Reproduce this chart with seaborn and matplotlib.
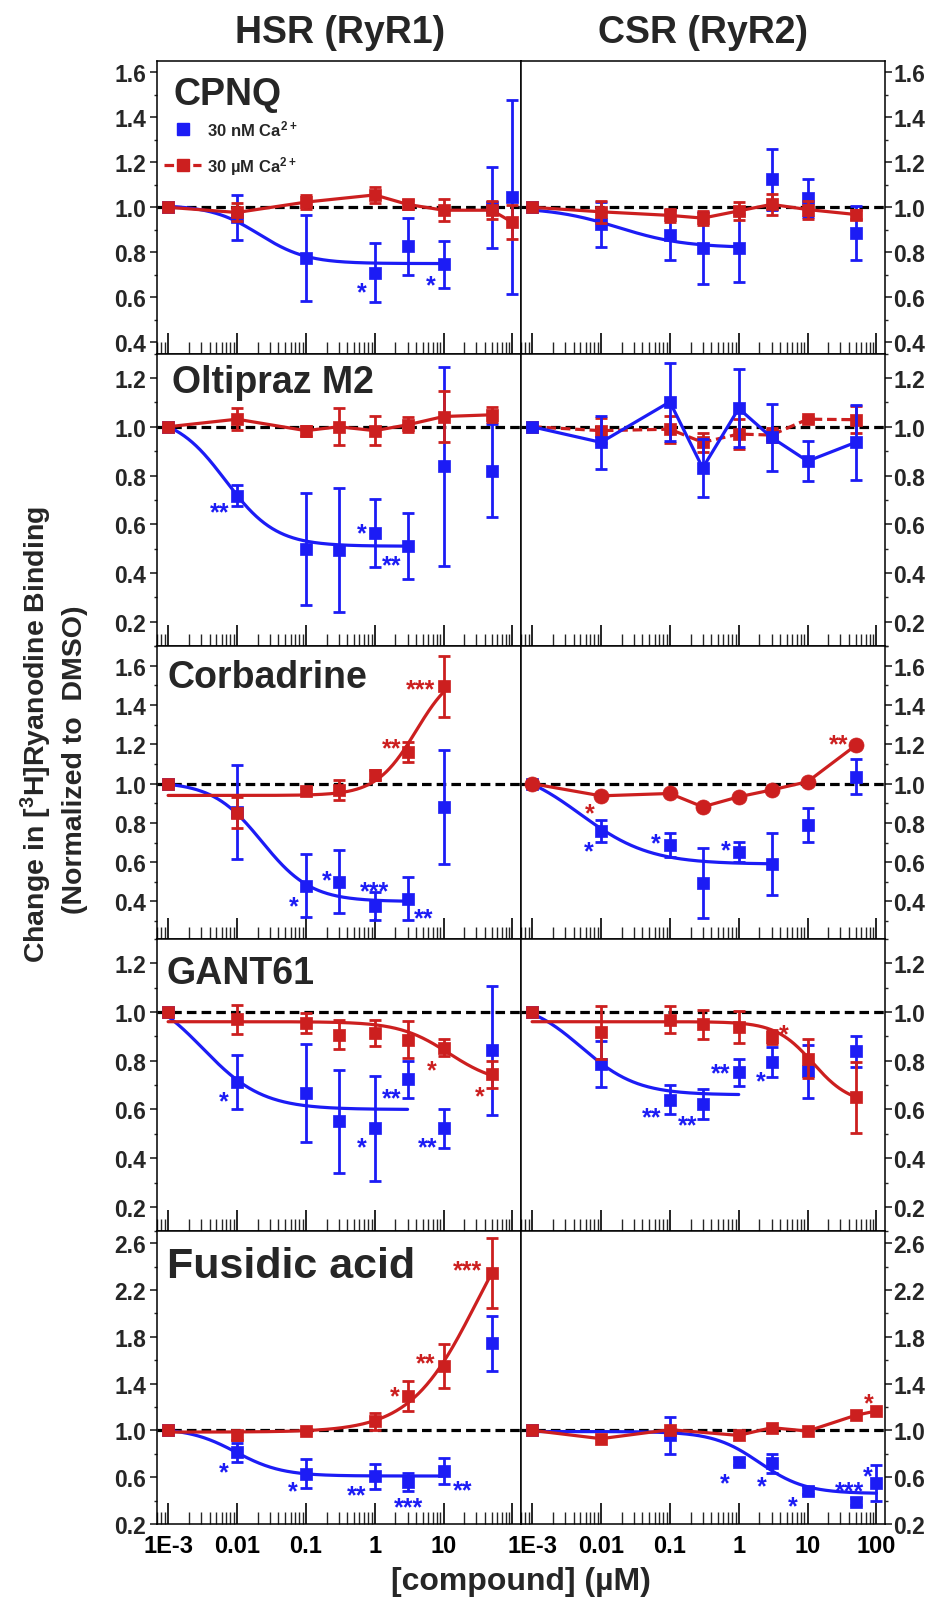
import numpy as np
import matplotlib
matplotlib.use("Agg")
import matplotlib.pyplot as plt
from matplotlib.ticker import LogLocator, MultipleLocator, FormatStrFormatter, FixedLocator, FixedFormatter, NullFormatter
from matplotlib.lines import Line2D
import seaborn as sns

BLUE = '#1c1cf5'
RED = '#cc1f1f'

# ---- data (fraction of DMSO binding), low Ca (30 nM) and high Ca (30 uM) ----
C_CPNQ_HSR = [0.001, 0.01, 0.1, 1, 3, 10, 50, 100]
CPNQ_HSR_LO = [1.0, 0.955, 0.775, 0.71, 0.826, 0.746, 1.0, 1.045]
CPNQ_HSR_LO_ERR = [0, 0.10, 0.19, 0.13, 0.125, 0.105, 0.18, 0.43]
CPNQ_HSR_HI = [1.0, 0.977, 1.023, 1.055, 1.013, 0.987, 0.987, 0.933]
CPNQ_HSR_HI_ERR = [0, 0.04, 0.03, 0.035, 0.02, 0.05, 0.04, 0.076]

C_CPNQ_CSR = [0.001, 0.01, 0.1, 0.3, 1, 3, 10, 50]
CPNQ_CSR_LO = [1.0, 0.924, 0.878, 0.82, 0.82, 1.125, 1.04, 0.887]
CPNQ_CSR_LO_ERR = [0, 0.10, 0.11, 0.16, 0.15, 0.135, 0.085, 0.12]
CPNQ_CSR_HI = [1.0, 0.98, 0.964, 0.952, 0.984, 1.013, 0.99, 0.968]
CPNQ_CSR_HI_ERR = [0, 0.05, 0.03, 0.03, 0.04, 0.045, 0.04, 0.02]

C_OLT = [0.001, 0.01, 0.1, 0.3, 1, 3, 10, 50]
OLT_HSR_LO = [1.0, 0.718, 0.50, 0.494, 0.565, 0.512, 0.837, 0.82]
OLT_HSR_LO_ERR = [0, 0.045, 0.23, 0.255, 0.14, 0.135, 0.41, 0.19]
OLT_HSR_HI = [1.0, 1.031, 0.984, 1.0, 0.984, 1.008, 1.042, 1.049]
OLT_HSR_HI_ERR = [0, 0.045, 0.02, 0.075, 0.06, 0.03, 0.105, 0.03]
OLT_CSR_LO = [1.0, 0.936, 1.102, 0.831, 1.075, 0.956, 0.859, 0.936]
OLT_CSR_LO_ERR = [0, 0.11, 0.16, 0.12, 0.16, 0.137, 0.083, 0.155]
OLT_CSR_HI = [1.0, 0.984, 0.99, 0.936, 0.97, 0.966, 1.031, 1.029]
OLT_CSR_HI_ERR = [0, 0.05, 0.055, 0.04, 0.06, 0.03, 0.01, 0.055]

C_CORB_HSR = [0.001, 0.01, 0.1, 0.3, 1, 3, 10]
CORB_HSR_LO = [1.0, 0.854, 0.48, 0.50, 0.378, 0.415, 0.882]
CORB_HSR_LO_ERR = [0, 0.24, 0.16, 0.16, 0.07, 0.11, 0.29]
CORB_HSR_HI = [1.0, 0.853, 0.962, 0.967, 1.044, 1.16, 1.497]
CORB_HSR_HI_ERR = [0, 0.08, 0.015, 0.05, 0.025, 0.05, 0.155]
C_CORB_CSR = [0.001, 0.01, 0.1, 0.3, 1, 3, 10, 50]
CORB_CSR_LO = [1.0, 0.759, 0.689, 0.494, 0.651, 0.591, 0.79, 1.036]
CORB_CSR_LO_ERR = [0, 0.055, 0.06, 0.18, 0.05, 0.16, 0.085, 0.09]
CORB_CSR_HI = [1.0, 0.938, 0.95, 0.882, 0.933, 0.968, 1.01, 1.195]

C_GANT = [0.001, 0.01, 0.1, 0.3, 1, 3, 10, 50]
GANT_HSR_LO = [1.0, 0.712, 0.668, 0.551, 0.523, 0.723, 0.523, 0.842]
GANT_HSR_LO_ERR = [0, 0.11, 0.2, 0.21, 0.215, 0.075, 0.08, 0.265]
GANT_HSR_HI = [1.0, 0.97, 0.955, 0.907, 0.914, 0.886, 0.853, 0.744]
GANT_HSR_HI_ERR = [0, 0.06, 0.04, 0.06, 0.055, 0.075, 0.035, 0.055]
GANT_CSR_LO = [1.0, 0.786, 0.64, 0.622, 0.752, 0.795, 0.756, 0.838]
GANT_CSR_LO_ERR = [0, 0.095, 0.06, 0.06, 0.055, 0.06, 0.11, 0.065]
GANT_CSR_HI = [1.0, 0.916, 0.968, 0.95, 0.938, 0.897, 0.808, 0.65]
GANT_CSR_HI_ERR = [0, 0.11, 0.055, 0.06, 0.065, 0.03, 0.08, 0.145]

C_FUS_HSR = [0.001, 0.01, 0.1, 1, 3, 10, 50]
FUS_HSR_LO = [1.0, 0.814, 0.629, 0.606, 0.557, 0.651, 1.743]
FUS_HSR_LO_ERR = [0, 0.08, 0.125, 0.105, 0.075, 0.11, 0.237]
FUS_HSR_HI = [1.0, 0.957, 0.994, 1.077, 1.294, 1.551, 2.343]
FUS_HSR_HI_ERR = [0, 0.04, 0.02, 0.07, 0.13, 0.185, 0.30]
C_FUS_CSR = [0.001, 0.01, 0.1, 1, 3, 10, 50, 100]
FUS_CSR_LO = [1.0, np.nan, 0.957, 0.734, 0.72, 0.486, 0.391, 0.551]
FUS_CSR_LO_ERR = [0, 0, 0.155, 0.03, 0.08, 0.03, 0.03, 0.155]
FUS_CSR_HI = [1.0, 0.929, 1.006, 0.957, 1.023, 0.994, 1.129, 1.166]

# sigmoid fit parameters: start, end, EC50 (uM), Hill slope, last x
FIT_CPNQ_HSR_LO = (1.01, 0.75, 0.021, 1.25, 10)
FIT_CPNQ_CSR_LO = (1.0, 0.82, 0.018, 0.9, 1)
FIT_OLT_HSR_LO = (1.05, 0.51, 0.0068, 1.19, 3)
FIT_CORB_HSR_LO = (1.01, 0.40, 0.023, 1.21, 3)
FIT_CORB_HSR_HI = (0.94, 1.60, 4.0, 1.5, 10)
FIT_CORB_CSR_LO = (1.1, 0.59, 0.005, 0.86, 3)
FIT_GANT_HSR_LO = (1.1, 0.60, 0.0032, 1.0, 3)
FIT_GANT_HSR_HI = (0.96, 0.70, 12.0, 1.2, 50)
FIT_GANT_CSR_LO = (1.05, 0.66, 0.0052, 1.07, 1)
FIT_GANT_CSR_HI = (0.96, 0.62, 12.0, 1.6, 50)
FIT_FUS_HSR_LO = (1.02, 0.61, 0.0096, 1.29, 10)
FIT_FUS_HSR_HI = (0.985, 3.2, 30.0, 0.9, 50)
FIT_FUS_CSR_LO = (0.99, 0.46, 2.0, 1.3, 100)

COMPOUNDS = ['CPNQ', 'Oltipraz M2', 'Corbadrine', 'GANT61', 'Fusidic acid']
COLUMN_TITLES = ['HSR (RyR1)', 'CSR (RyR2)']

# (row, col, conc, lo, lo_err, lo_mode, lo_fit, hi, hi_err, hi_mode, hi_fit, hi_marker)
PANELS = [
    (0, 0, C_CPNQ_HSR, CPNQ_HSR_LO, CPNQ_HSR_LO_ERR, 'fit', FIT_CPNQ_HSR_LO, CPNQ_HSR_HI, CPNQ_HSR_HI_ERR, 'line', None, 's'),
    (0, 1, C_CPNQ_CSR, CPNQ_CSR_LO, CPNQ_CSR_LO_ERR, 'fit', FIT_CPNQ_CSR_LO, CPNQ_CSR_HI, CPNQ_CSR_HI_ERR, 'line', None, 's'),
    (1, 0, C_OLT, OLT_HSR_LO, OLT_HSR_LO_ERR, 'fit', FIT_OLT_HSR_LO, OLT_HSR_HI, OLT_HSR_HI_ERR, 'line', None, 's'),
    (1, 1, C_OLT, OLT_CSR_LO, OLT_CSR_LO_ERR, 'line', None, OLT_CSR_HI, OLT_CSR_HI_ERR, 'dash', None, 's'),
    (2, 0, C_CORB_HSR, CORB_HSR_LO, CORB_HSR_LO_ERR, 'fit', FIT_CORB_HSR_LO, CORB_HSR_HI, CORB_HSR_HI_ERR, 'fit', FIT_CORB_HSR_HI, 's'),
    (2, 1, C_CORB_CSR, CORB_CSR_LO, CORB_CSR_LO_ERR, 'fit', FIT_CORB_CSR_LO, CORB_CSR_HI, None, 'line', None, 'o'),
    (3, 0, C_GANT, GANT_HSR_LO, GANT_HSR_LO_ERR, 'fit', FIT_GANT_HSR_LO, GANT_HSR_HI, GANT_HSR_HI_ERR, 'fit', FIT_GANT_HSR_HI, 's'),
    (3, 1, C_GANT, GANT_CSR_LO, GANT_CSR_LO_ERR, 'fit', FIT_GANT_CSR_LO, GANT_CSR_HI, GANT_CSR_HI_ERR, 'fit', FIT_GANT_CSR_HI, 's'),
    (4, 0, C_FUS_HSR, FUS_HSR_LO, FUS_HSR_LO_ERR, 'fit', FIT_FUS_HSR_LO, FUS_HSR_HI, FUS_HSR_HI_ERR, 'fit', FIT_FUS_HSR_HI, 's'),
    (4, 1, C_FUS_CSR, FUS_CSR_LO, FUS_CSR_LO_ERR, 'fit', FIT_FUS_CSR_LO, FUS_CSR_HI, None, 'line', None, 's'),
]

# significance marks: row, col, series, conc, text, offset (px right, px up)
STARS = [
    (0, 0, 'lo', 1, '*', -13, -12), (0, 0, 'lo', 10, '*', -13, -13),
    (1, 0, 'lo', 0.01, '**', -17, -9), (1, 0, 'lo', 1, '*', -13, 8), (1, 0, 'lo', 3, '**', -16, -12),
    (2, 0, 'hi', 10, '***', -23, 5), (2, 0, 'hi', 3, '**', -16, 12),
    (2, 0, 'lo', 0.1, '*', -12, -13), (2, 0, 'lo', 0.3, '*', -12, 10),
    (2, 0, 'lo', 1, '***', 0, 22), (2, 0, 'lo', 3, '**', 16, -12),
    (2, 1, 'hi', 0.01, '*', -11, -9), (2, 1, 'hi', 50, '**', -17, 9),
    (2, 1, 'lo', 0.01, '*', -12, -12), (2, 1, 'lo', 0.1, '*', -14, 9), (2, 1, 'lo', 1, '*', -13, 10),
    (3, 0, 'lo', 0.01, '*', -13, -11), (3, 0, 'lo', 3, '**', -16, -11), (3, 0, 'lo', 1, '*', -13, -11),
    (3, 0, 'lo', 10, '**', -16, -11), (3, 0, 'hi', 10, '*', -12, -15), (3, 0, 'hi', 50, '*', -12, -14),
    (3, 1, 'hi', 3, '*', 12, 11), (3, 1, 'lo', 1, '**', -18, 7), (3, 1, 'lo', 3, '*', -11, -11),
    (3, 1, 'lo', 0.1, '**', -18, -10), (3, 1, 'lo', 0.3, '**', -15, -13),
    (4, 0, 'lo', 0.01, '*', -13, -12), (4, 0, 'lo', 0.1, '*', -13, -10), (4, 0, 'lo', 1, '**', -18, -11),
    (4, 0, 'lo', 3, '***', 1, -17), (4, 0, 'lo', 10, '**', 19, -11),
    (4, 0, 'hi', 3, '*', -13, 8), (4, 0, 'hi', 10, '**', -18, 11), (4, 0, 'hi', 50, '***', -24, 11),
    (4, 1, 'hi', 100, '*', -8, 16), (4, 1, 'lo', 1, '*', -14, -14), (4, 1, 'lo', 3, '*', -10, -15),
    (4, 1, 'lo', 10, '*', -15, -8), (4, 1, 'lo', 50, '***', -6, 18), (4, 1, 'lo', 100, '*', -9, 15),
]

# y range / ticks per row
Y_LIMS = [(0.35, 1.65), (0.1, 1.3), (0.21, 1.70), (0.1, 1.3), (0.2, 2.7)]
Y_MAJOR = [(0.4, 1.6, 0.2), (0.2, 1.2, 0.2), (0.4, 1.6, 0.2), (0.2, 1.2, 0.2), (0.2, 2.6, 0.4)]
Y_MINOR = [0.1, 0.1, 0.1, 0.1, 0.2]
LABEL_POS = [(0.044, 0.949, 27), (0.041, 0.966, 27), (0.030, 0.955, 27), (0.027, 0.945, 27), (0.027, 0.949, 31)]
X_LABELS = {0.001: '1E-3', 0.01: '0.01', 0.1: '0.1', 1: '1', 10: '10', 100: '100'}


def sigmoid(x, start, end, ec50, h):
    return end + (start - end) / (1 + (x / ec50) ** h)


def draw_series(ax, conc, vals, errs, color, marker, mode, fit, z):
    x = np.asarray(conc, float)
    y = np.asarray(vals, float)
    if mode == 'fit':
        xs = np.logspace(np.log10(conc[0]), np.log10(fit[4]), 300)
        sns.lineplot(x=xs, y=sigmoid(xs, *fit[:4]), ax=ax, color=color, lw=2.3,
                     sort=False, estimator=None, zorder=z)
    else:
        ok = ~np.isnan(y)
        ls = (0, (3, 1.5)) if mode == 'dash' else '-'
        sns.lineplot(x=x[ok], y=y[ok], ax=ax, color=color, lw=2.3, linestyle=ls,
                     sort=False, estimator=None, zorder=z)
    if errs is not None:
        ax.errorbar(x, y, yerr=errs, fmt='none', ecolor=color, elinewidth=2.0,
                    capsize=4, capthick=2.0, zorder=z + 0.2)
    size = 9.5 if marker == 'o' else 8.8
    sns.scatterplot(x=x, y=y, ax=ax, marker=marker, s=size ** 2 * (1.3 if marker == 'o' else 1.0),
                    color=color, edgecolor=color, linewidth=0.5, zorder=z + 0.4, legend=False)


sns.set_style('ticks')
plt.rcParams['font.family'] = ['Liberation Sans', 'DejaVu Sans']
plt.rcParams['font.weight'] = 'bold'
plt.rcParams['mathtext.fontset'] = 'custom'
plt.rcParams['mathtext.rm'] = 'Liberation Sans:bold'
plt.rcParams['mathtext.bf'] = 'Liberation Sans:bold'
plt.rcParams['mathtext.default'] = 'bf'

fig = plt.figure(figsize=(9.33, 16.06), dpi=100)
gs = fig.add_gridspec(5, 2, left=157 / 933, right=885 / 933, top=1 - 62 / 1606,
                      bottom=1 - 1525 / 1606, hspace=0, wspace=0)
axes = [[fig.add_subplot(gs[r, c]) for c in range(2)] for r in range(5)]

for (row, col, conc, lo, lo_err, lo_mode, lo_fit, hi, hi_err, hi_mode, hi_fit, hi_marker) in PANELS:
    ax = axes[row][col]
    ax.set_xscale('log')
    ax.axhline(1.0, color='black', lw=2.3, ls=(0, (3, 1.6)), zorder=3)
    if row == 1 and col == 1:
        draw_series(ax, conc, hi, hi_err, RED, hi_marker, hi_mode, hi_fit, 4)
        draw_series(ax, conc, lo, lo_err, BLUE, 's', lo_mode, lo_fit, 5)
    else:
        draw_series(ax, conc, lo, lo_err, BLUE, 's', lo_mode, lo_fit, 4)
        draw_series(ax, conc, hi, hi_err, RED, hi_marker, hi_mode, hi_fit, 5)

    for (sr, sc, series, cval, txt, dx, dy) in STARS:
        if sr != row or sc != col:
            continue
        vals = lo if series == 'lo' else hi
        yv = vals[list(conc).index(cval)]
        ax.annotate(txt, xy=(cval, yv), xytext=(dx * 0.72, (dy - 8) * 0.72),
                    textcoords='offset points', ha='center', va='center',
                    color=BLUE if series == 'lo' else RED, fontsize=18, fontweight='bold', zorder=6)

for r in range(5):
    for c in range(2):
        ax = axes[r][c]
        ax.set_xlim(6.9e-4, 133)
        ax.set_ylim(*Y_LIMS[r])
        lo_t, hi_t, st = Y_MAJOR[r]
        ax.yaxis.set_major_locator(FixedLocator(np.round(np.arange(lo_t, hi_t + 1e-6, st), 2)))
        ax.yaxis.set_minor_locator(MultipleLocator(Y_MINOR[r]))
        ax.yaxis.set_major_formatter(FormatStrFormatter('%.1f'))
        ax.set_xlabel('')
        ax.set_ylabel('')
        for sp in ax.spines.values():
            sp.set_linewidth(1.1)
            sp.set_color('black')
        ax.xaxis.set_major_locator(FixedLocator([1e-3, 1e-2, 1e-1, 1, 10, 100]))
        ax.xaxis.set_minor_locator(LogLocator(base=10, subs=np.arange(2, 10), numticks=20))
        ax.xaxis.set_minor_formatter(NullFormatter())
        if r == 4:
            labels = [X_LABELS[t] for t in [0.001, 0.01, 0.1, 1, 10, 100]]
            if c == 0:
                labels[-1] = ''
            ax.xaxis.set_major_formatter(FixedFormatter(labels))
        ax.tick_params(axis='x', which='major', direction='in', length=15, width=1.2,
                       bottom=True, top=False, labelbottom=(r == 4), labelsize=17, pad=7, colors='black')
        ax.tick_params(axis='x', which='minor', direction='in', length=8.5, width=1.0,
                       bottom=True, top=False)
        if c == 0:
            ax.tick_params(axis='y', which='major', direction='out', length=5, width=1.2,
                           left=True, right=False, labelleft=True, labelright=False, labelsize=16.5, pad=3)
            ax.tick_params(axis='y', which='minor', direction='out', length=2.5, width=1.0,
                           left=True, right=False)
        else:
            ax.tick_params(axis='y', which='major', direction='out', length=5, width=1.2,
                           left=False, right=True, labelleft=False, labelright=True, labelsize=16.5, pad=1)
            ax.tick_params(axis='y', which='minor', direction='out', length=2.5, width=1.0,
                           left=False, right=True)

for r, name in enumerate(COMPOUNDS):
    x, y, fs = LABEL_POS[r]
    axes[r][0].text(x, y, name, transform=axes[r][0].transAxes, ha='left', va='top',
                    fontsize=fs, fontweight='bold', zorder=7)

handles = [Line2D([], [], color=BLUE, marker='s', ms=8.5, lw=0),
           Line2D([], [], color=RED, marker='s', ms=8.5, lw=2.3, ls=(0, (3, 1.5)))]
axes[0][0].legend(handles, ['30 nM Ca$^{2+}$', '30 \u00b5M Ca$^{2+}$'], loc='upper left',
                  bbox_to_anchor=(0.02, 0.805), frameon=False, handlelength=2.2, handletextpad=0.35,
                  labelspacing=0.95, borderpad=0, borderaxespad=0,
                  prop={'size': 12, 'weight': 'bold'})

fig.text(340 / 933, 1 - 33 / 1606, COLUMN_TITLES[0], ha='center', va='center', fontsize=27, fontweight='bold')
fig.text(703 / 933, 1 - 33 / 1606, COLUMN_TITLES[1], ha='center', va='center', fontsize=27, fontweight='bold')
fig.text(36 / 933, 1 - 735 / 1606, 'Change in [$^{3}$H]Ryanodine Binding', rotation=90,
         ha='center', va='center', fontsize=20.5, fontweight='bold')
fig.text(75 / 933, 1 - 760 / 1606, '(Normalized to  DMSO)', rotation=90,
         ha='center', va='center', fontsize=20.5, fontweight='bold')
fig.text(521 / 933, 1 - 1582 / 1606, '[compound] (\u00b5M)', ha='center', va='center',
         fontsize=23, fontweight='bold')

fig.savefig('out.png', dpi=100)
